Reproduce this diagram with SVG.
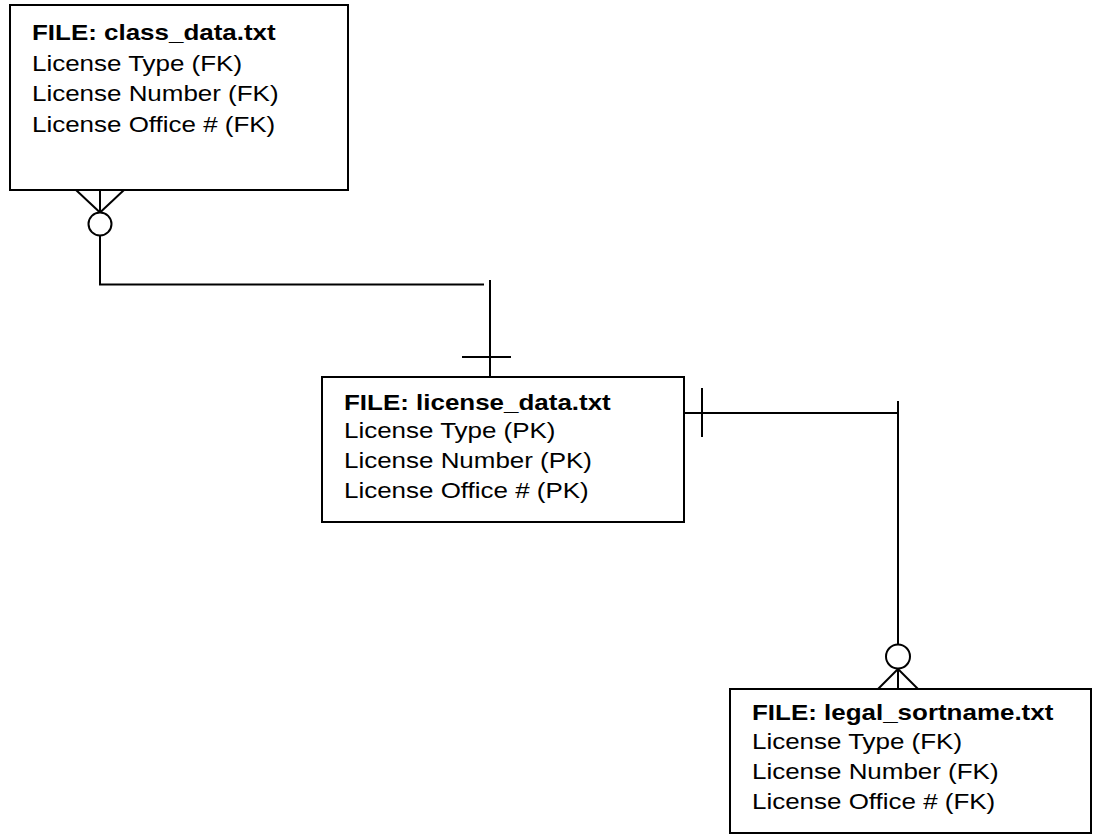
<svg xmlns="http://www.w3.org/2000/svg" width="1093" height="835" viewBox="0 0 1093 835">
  <style>
    .box { fill: #ffffff; stroke: #000000; stroke-width: 2; }
    .ln { fill: none; stroke: #000000; stroke-width: 2; }
    .circ { fill: #ffffff; stroke: #000000; stroke-width: 2; }
    .t { font-family: "Liberation Sans", Arial, sans-serif; font-size: 22px; fill: #000000; }
    .b { font-weight: bold; }
  </style>
  <rect x="0" y="0" width="1093" height="835" fill="#ffffff"/>

  <g id="connectors">
    <!-- class_data (many, optional) to license_data (one) -->
    <line class="ln" x1="76" y1="190" x2="100" y2="212.5"/>
    <line class="ln" x1="124" y1="190" x2="100" y2="212.5"/>
    <line class="ln" x1="100" y1="190" x2="100" y2="212.5"/>
    <circle class="circ" cx="100" cy="224" r="11.5"/>
    <polyline class="ln" points="100,235.5 100,284.5 484,284.5"/>
    <line class="ln" x1="490" y1="280" x2="490" y2="377"/>
    <line class="ln" x1="462" y1="357" x2="511" y2="357"/>

    <!-- license_data (one) to legal_sortname (many, optional) -->
    <line class="ln" x1="682" y1="413" x2="898" y2="413"/>
    <line class="ln" x1="702" y1="388" x2="702" y2="437"/>
    <line class="ln" x1="898" y1="401" x2="898" y2="644.5"/>
    <circle class="circ" cx="898" cy="656.5" r="12"/>
    <line class="ln" x1="898" y1="669" x2="874" y2="693"/>
    <line class="ln" x1="898" y1="669" x2="922" y2="693"/>
    <line class="ln" x1="898" y1="669" x2="898" y2="693"/>
  </g>

  <g id="class_data">
    <rect class="box" x="10" y="5" width="338" height="185"/>
    <g transform="translate(32,0) scale(1.18,1)">
      <text class="t b" x="0" y="40.5">FILE: class_data.txt</text>
      <text class="t" x="0" y="71">License Type (FK)</text>
      <text class="t" x="0" y="101.5">License Number (FK)</text>
      <text class="t" x="0" y="132">License Office # (FK)</text>
    </g>
  </g>

  <g id="license_data">
    <rect class="box" x="322" y="377" width="362" height="145"/>
    <g transform="translate(344,0) scale(1.18,1)">
      <text class="t b" x="0" y="410">FILE: license_data.txt</text>
      <text class="t" x="0" y="438.5">License Type (PK)</text>
      <text class="t" x="0" y="468.3">License Number (PK)</text>
      <text class="t" x="0" y="498.3">License Office # (PK)</text>
    </g>
  </g>

  <g id="legal_sortname">
    <rect class="box" x="730" y="689" width="361" height="144"/>
    <g transform="translate(752,0) scale(1.18,1)">
      <text class="t b" x="0" y="720.5">FILE: legal_sortname.txt</text>
      <text class="t" x="0" y="749.5">License Type (FK)</text>
      <text class="t" x="0" y="779">License Number (FK)</text>
      <text class="t" x="0" y="809">License Office # (FK)</text>
    </g>
  </g>
</svg>
